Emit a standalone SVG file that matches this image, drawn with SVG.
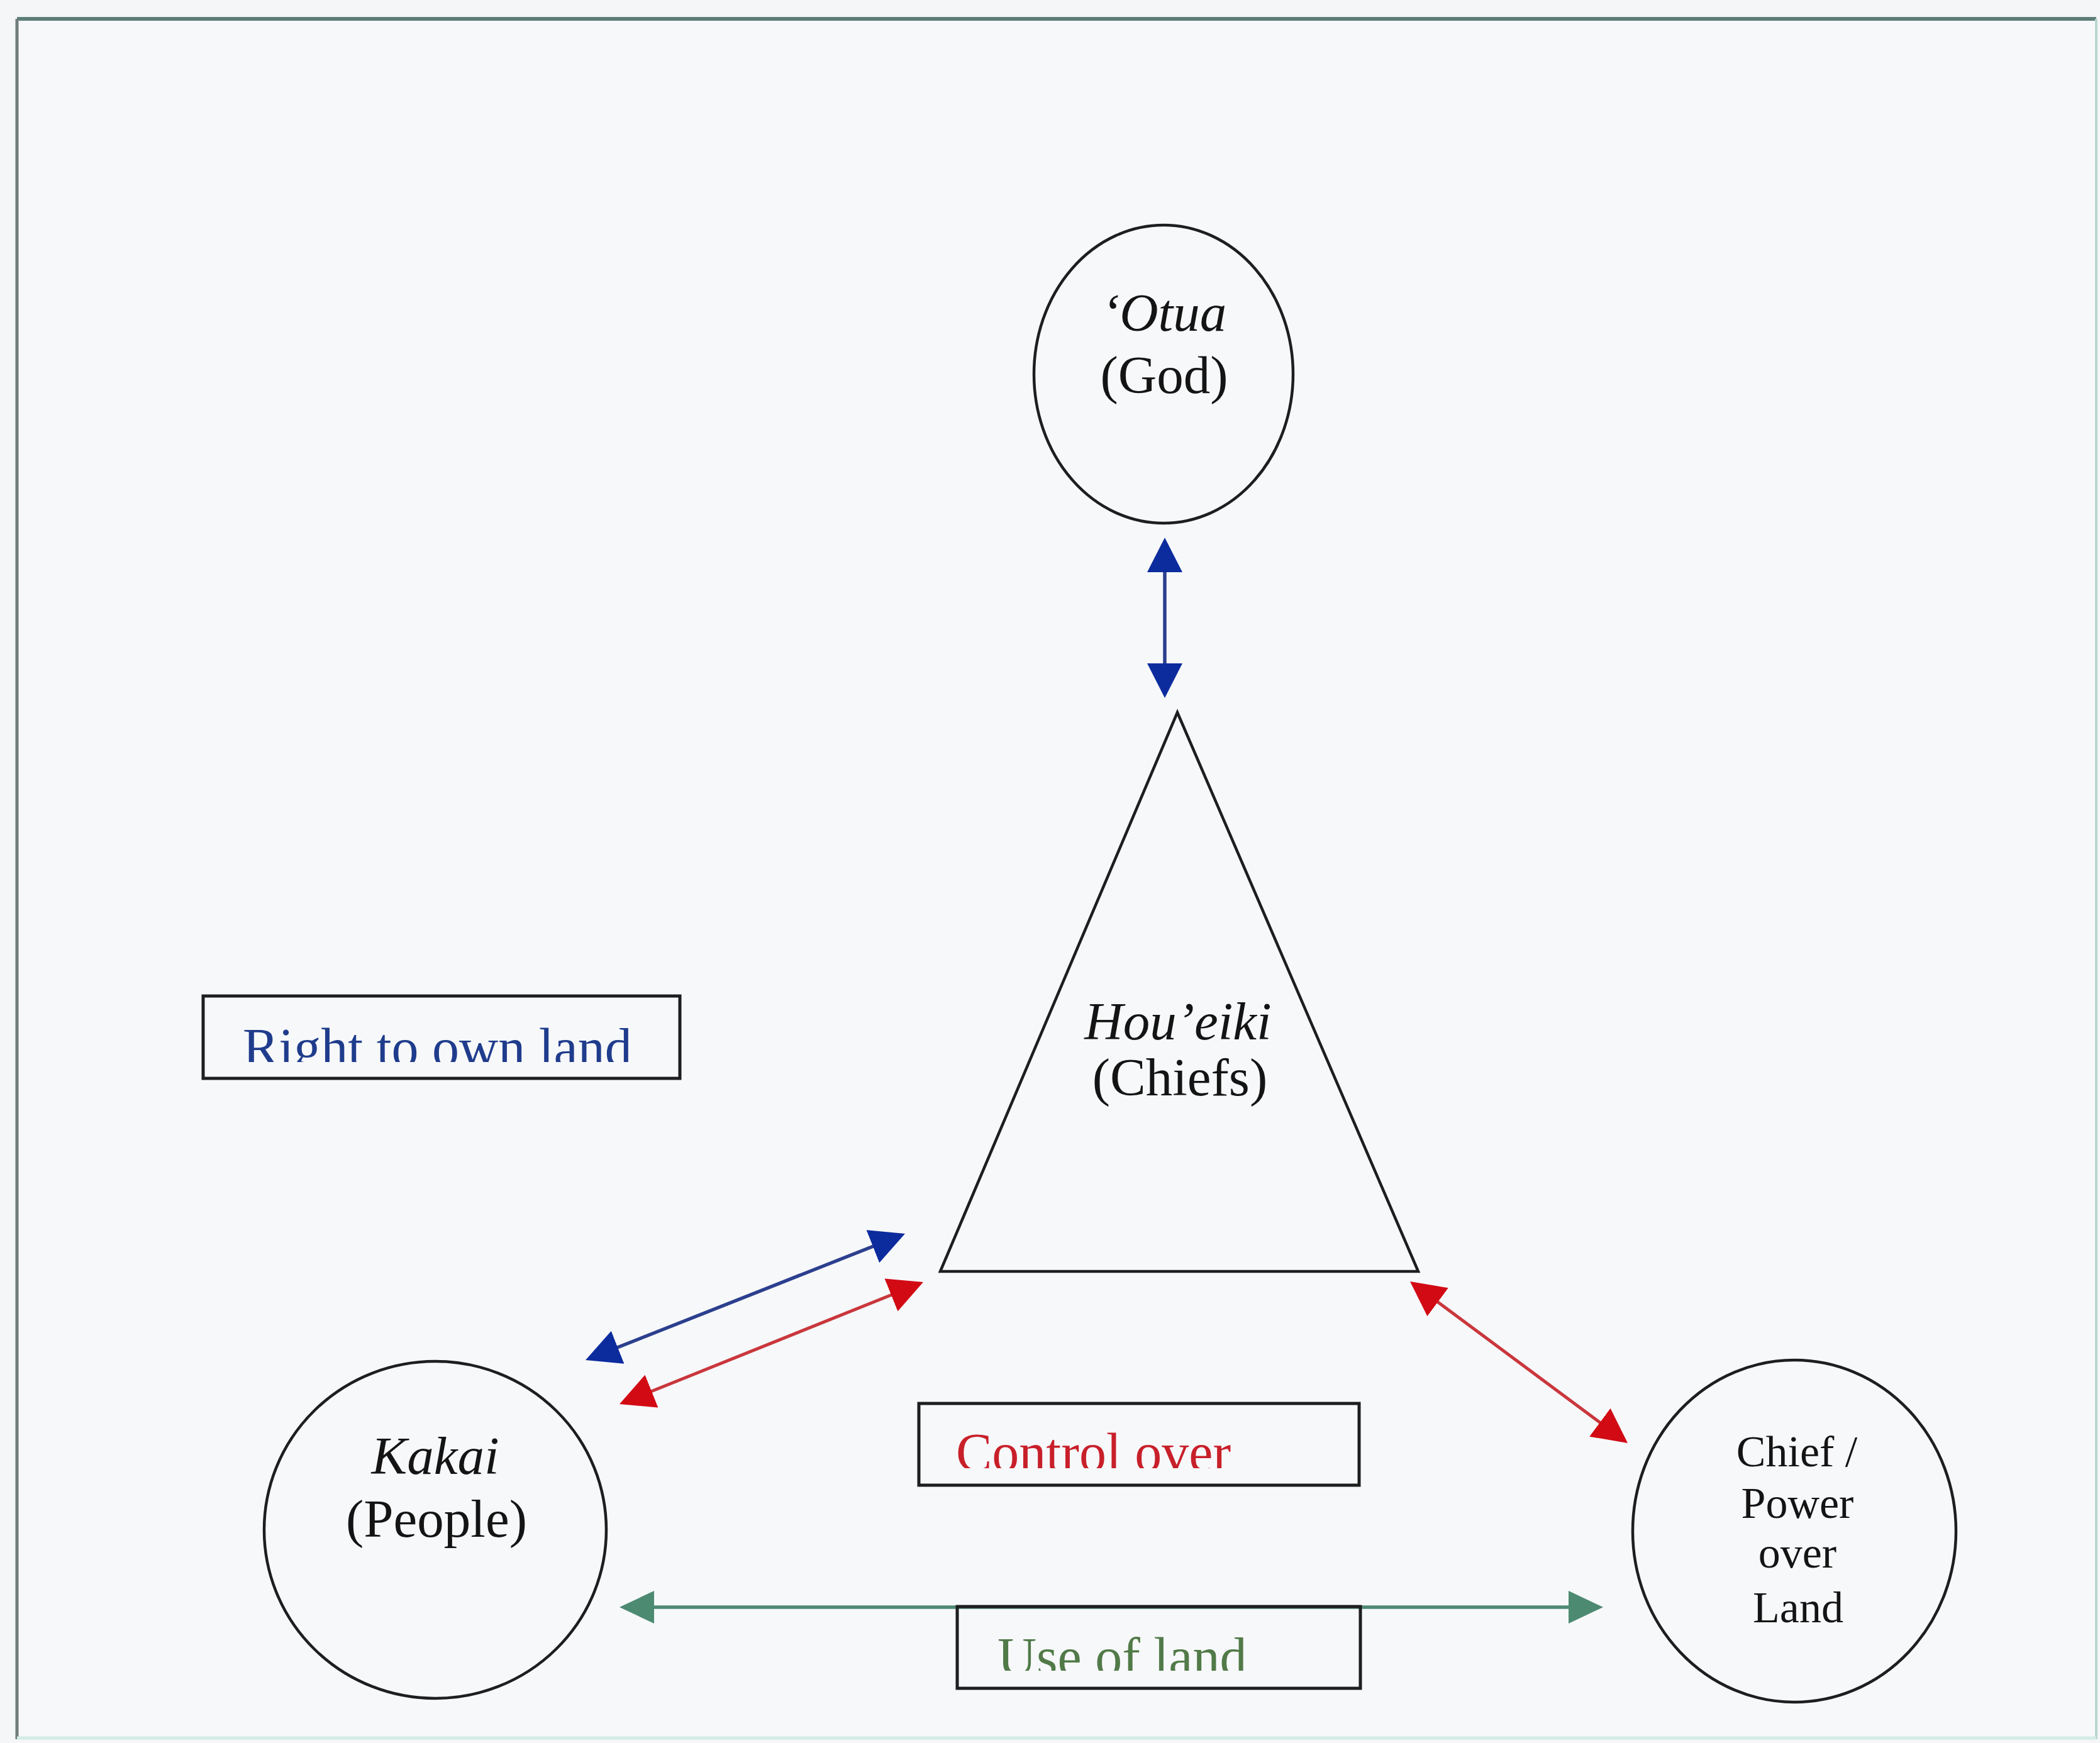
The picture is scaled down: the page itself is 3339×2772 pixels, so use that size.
<svg xmlns="http://www.w3.org/2000/svg" width="3339" height="2772" viewBox="0 0 3339 2772">
  <style>
    .shape { fill: none; stroke: #1e1e1e; stroke-width: 4.5; }
    .box { fill: none; stroke: #1e1e1e; stroke-width: 5; }
    .lbl { font-family: "Liberation Serif", "Times New Roman", serif; font-size: 85px; fill: #141414; text-anchor: middle; }
    .it { font-style: italic; }
    .small { font-size: 70px; }
    .tag { font-family: "Liberation Serif", "Times New Roman", serif; font-size: 86px; }
    .blue-line { stroke: #2c3f8e; stroke-width: 5.5; fill: none; }
    .red-line { stroke: #c9373c; stroke-width: 5; fill: none; }
    .green-line { stroke: #4d8a72; stroke-width: 5.5; fill: none; }
  </style>
  <defs>
    <marker id="head-blue" markerUnits="userSpaceOnUse" viewBox="0 0 55 56" markerWidth="55" markerHeight="56" refX="49" refY="28" orient="auto-start-reverse">
      <path d="M0,0 L55,28 L0,56 Z" fill="#0c2c9e"/>
    </marker>
    <marker id="head-red" markerUnits="userSpaceOnUse" viewBox="0 0 55 56" markerWidth="55" markerHeight="56" refX="49" refY="28" orient="auto-start-reverse">
      <path d="M0,0 L55,28 L0,56 Z" fill="#d20a14"/>
    </marker>
    <marker id="head-green" markerUnits="userSpaceOnUse" viewBox="0 0 55 52" markerWidth="55" markerHeight="52" refX="49" refY="26" orient="auto-start-reverse">
      <path d="M0,0 L55,26 L0,52 Z" fill="#4d8a72"/>
    </marker>
    <clipPath id="clip-own"><rect x="300" y="1590" width="800" height="99"/></clipPath>
    <clipPath id="clip-control"><rect x="1470" y="2240" width="680" height="95"/></clipPath>
    <clipPath id="clip-use"><rect x="1530" y="2560" width="620" height="97"/></clipPath>
  </defs>

  <!-- page and frame -->
  <rect x="0" y="0" width="3339" height="2772" fill="#f5f6f8"/>
  <rect x="27" y="30" width="3306" height="2734" fill="#f7f8fa"/>
  <line x1="27" y1="30" x2="3333" y2="30" stroke="#5d7e78" stroke-width="6"/>
  <line x1="27" y1="30" x2="27" y2="2766" stroke="#6f7d7b" stroke-width="5"/>
  <line x1="3333" y1="30" x2="3333" y2="2766" stroke="#b9d6d0" stroke-width="4"/>
  <line x1="27" y1="2764" x2="3333" y2="2764" stroke="#d3ebe6" stroke-width="5"/>

  <!-- connectors -->
  <g id="connectors">
    <line class="blue-line" x1="1852" y1="861" x2="1852" y2="1104" marker-start="url(#head-blue)" marker-end="url(#head-blue)"/>
    <line class="blue-line" x1="1433.4" y1="1964.2" x2="936.6" y2="2160.8" marker-start="url(#head-blue)" marker-end="url(#head-blue)"/>
    <line class="red-line" x1="1462.4" y1="2041.2" x2="990.6" y2="2230.8" marker-start="url(#head-red)" marker-end="url(#head-red)"/>
    <line class="red-line" x1="2246.8" y1="2041.6" x2="2583.2" y2="2291.4" marker-start="url(#head-red)" marker-end="url(#head-red)"/>
    <line class="green-line" x1="991" y1="2556" x2="2543" y2="2556" marker-start="url(#head-green)" marker-end="url(#head-green)"/>
  </g>

  <!-- God -->
  <g id="node-otua">
    <ellipse class="shape" cx="1850" cy="595" rx="206" ry="237"/>
    <text class="lbl it" x="1851" y="526">‘Otua</text>
    <text class="lbl" x="1851" y="625">(God)</text>
  </g>

  <!-- Chiefs -->
  <g id="node-houeiki">
    <polygon class="shape" points="1872,1133 2255,2022 1495,2022"/>
    <text class="lbl it" x="1873" y="1653">Hou’eiki</text>
    <text class="lbl" x="1876" y="1742">(Chiefs)</text>
  </g>

  <!-- People -->
  <g id="node-kakai">
    <ellipse class="shape" cx="692" cy="2433" rx="272" ry="268"/>
    <text class="lbl it" x="692" y="2344">Kakai</text>
    <text class="lbl" x="694" y="2444">(People)</text>
  </g>

  <!-- Chief / power over land -->
  <g id="node-power">
    <ellipse class="shape" cx="2853" cy="2435" rx="257" ry="272"/>
    <text class="lbl small" x="2857" y="2332">Chief /</text>
    <text class="lbl small" x="2858" y="2414">Power</text>
    <text class="lbl small" x="2858" y="2493">over</text>
    <text class="lbl small" x="2859" y="2580">Land</text>
  </g>

  <!-- relation labels -->
  <g id="label-own">
    <rect class="box" x="323" y="1584" width="758" height="131" fill="#f7f8fa"/>
    <text class="tag" x="386" y="1695" fill="#1f3c8c" clip-path="url(#clip-own)">Right to own land</text>
  </g>
  <g id="label-control">
    <rect class="box" x="1461" y="2232" width="700" height="130" fill="#f7f8fa"/>
    <text class="tag" x="1520" y="2339" fill="#c8202a" clip-path="url(#clip-control)">Control over</text>
  </g>
  <g id="label-use">
    <rect class="box" x="1522" y="2555" width="641" height="130" fill="#f7f8fa"/>
    <text class="tag" x="1586" y="2664" fill="#517a48" clip-path="url(#clip-use)">Use of land</text>
  </g>
</svg>
